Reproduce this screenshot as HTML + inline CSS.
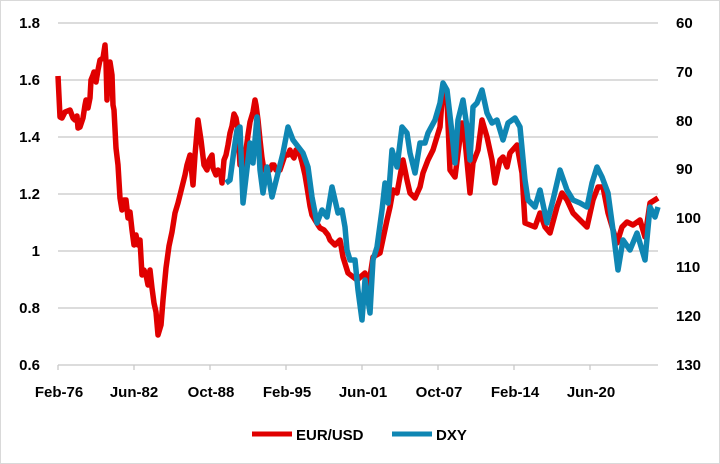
<!DOCTYPE html>
<html><head><meta charset="utf-8"><style>
body{margin:0;background:#fff}
svg{display:block;font-family:"Liberation Sans",sans-serif;font-weight:bold}
</style></head><body>
<svg width="720" height="464" viewBox="0 0 720 464">
<rect x="0.5" y="0.5" width="719" height="463" fill="#fff" stroke="#d9d9d9"/>
<g stroke="#c8c8c8" stroke-width="1.3">
<line x1="58" y1="23" x2="658" y2="23"/>
<line x1="58" y1="80" x2="658" y2="80"/>
<line x1="58" y1="137" x2="658" y2="137"/>
<line x1="58" y1="194" x2="658" y2="194"/>
<line x1="58" y1="251" x2="658" y2="251"/>
<line x1="58" y1="308" x2="658" y2="308"/>
<line x1="58" y1="365" x2="658" y2="365"/>
<line x1="58" y1="365" x2="58" y2="370"/><line x1="134" y1="365" x2="134" y2="370"/><line x1="210" y1="365" x2="210" y2="370"/><line x1="286" y1="365" x2="286" y2="370"/><line x1="362" y1="365" x2="362" y2="370"/><line x1="438" y1="365" x2="438" y2="370"/><line x1="514" y1="365" x2="514" y2="370"/><line x1="590" y1="365" x2="590" y2="370"/>
</g>
<g font-size="15" fill="#000" text-anchor="end">
<text x="40" y="28">1.8</text><text x="40" y="85">1.6</text><text x="40" y="142">1.4</text><text x="40" y="199">1.2</text><text x="40" y="256">1</text><text x="40" y="313">0.8</text><text x="40" y="370">0.6</text>
</g>
<g font-size="15" fill="#000" text-anchor="start">
<text x="676" y="28">60</text><text x="676" y="77">70</text><text x="676" y="126">80</text><text x="676" y="174">90</text><text x="676" y="223">100</text><text x="676" y="272">110</text><text x="676" y="321">120</text><text x="676" y="370">130</text>
</g>
<g font-size="15" fill="#000" text-anchor="middle">
<text x="59" y="397">Feb-76</text><text x="134" y="397">Jun-82</text><text x="211" y="397">Oct-88</text><text x="287" y="397">Feb-95</text><text x="363" y="397">Jun-01</text><text x="439" y="397">Oct-07</text><text x="515" y="397">Feb-14</text><text x="591" y="397">Jun-20</text>
</g>
<polyline fill="none" stroke="#e00000" stroke-width="5.5" stroke-linejoin="round" points="58,76 60,117 62,118 65,112 70,110 73,118 75,120 77,116 78,128 80,127 83,118 85,105 86,100 88,108 90,98 91,80 93,75 94,72 96,82 98,70 100,60 103,58 105,45 106,62 107,100 108,70 110,62 112,75 113,105 114,110 116,148 118,165 120,198 122,210 124,200 126,200 128,218 130,212 132,230 134,245 136,235 138,245 140,240 142,275 144,270 146,275 148,285 150,270 152,288 154,303 156,312 158,335 161,325 163,300 166,268 169,246 172,232 175,213 178,203 180,195 183,183 185,175 187,165 190,155 193,185 195,155 198,120 201,140 204,165 207,170 209,160 212,155 213,168 216,175 218,170 221,175 222,183 224,160 226,155 228,145 230,133 232,126 234,114 236,118 238,130 240,165 243,165 246,150 248,135 250,122 253,112 255,100 256,105 258,120 260,140 262,158 264,170 265,170 270,170 272,165 274,165 276,170 280,170 285,155 288,155 290,150 292,155 294,158 296,150 300,155 302,162 305,175 307,187 310,206 312,215 315,220 318,225 320,228 324,230 328,235 330,240 335,245 340,240 343,257 348,273 357,280 365,273 368,290 373,257 380,253 387,220 390,207 393,190 397,193 403,160 407,180 410,193 415,198 420,187 423,173 428,160 433,150 440,127 443,87 447,100 450,170 455,177 458,153 462,123 465,140 470,193 473,163 478,150 482,120 487,137 492,160 495,183 500,160 503,157 507,167 510,153 517,145 522,173 525,223 530,225 535,227 540,213 545,227 550,233 557,207 562,193 567,200 573,213 580,220 587,227 593,200 598,187 603,187 608,213 617,243 622,227 627,222 633,225 640,220 645,237 650,203 658,198"/>
<polyline fill="none" stroke="#0f86b3" stroke-width="5.5" stroke-linejoin="round" points="226,183 230,180 234,150 237,130 240,127 243,203 250,143 253,163 257,117 260,170 263,193 267,167 272,197 277,177 283,153 288,127 293,140 303,153 308,167 312,197 317,223 322,210 327,217 332,187 338,213 342,210 345,227 347,250 350,260 355,260 358,290 362,320 365,280 370,313 373,260 377,247 382,210 385,183 388,203 392,150 397,167 402,127 407,133 410,153 415,173 420,143 425,143 428,133 435,120 440,103 443,83 447,90 452,133 455,163 458,120 463,100 467,127 470,160 473,107 477,103 482,90 487,113 492,123 497,120 503,140 508,123 515,118 520,127 525,180 528,200 535,207 540,190 547,223 553,200 560,170 567,190 573,200 580,203 587,207 592,183 597,167 602,177 608,193 613,230 618,270 623,240 630,250 637,233 645,260 650,207 655,217 658,207"/>
<line x1="252" y1="434" x2="292" y2="434" stroke="#e00000" stroke-width="5"/>
<text x="296" y="440" font-size="15">EUR/USD</text>
<line x1="392" y1="434" x2="432" y2="434" stroke="#0f86b3" stroke-width="5"/>
<text x="436" y="440" font-size="15">DXY</text>
</svg>
</body></html>
